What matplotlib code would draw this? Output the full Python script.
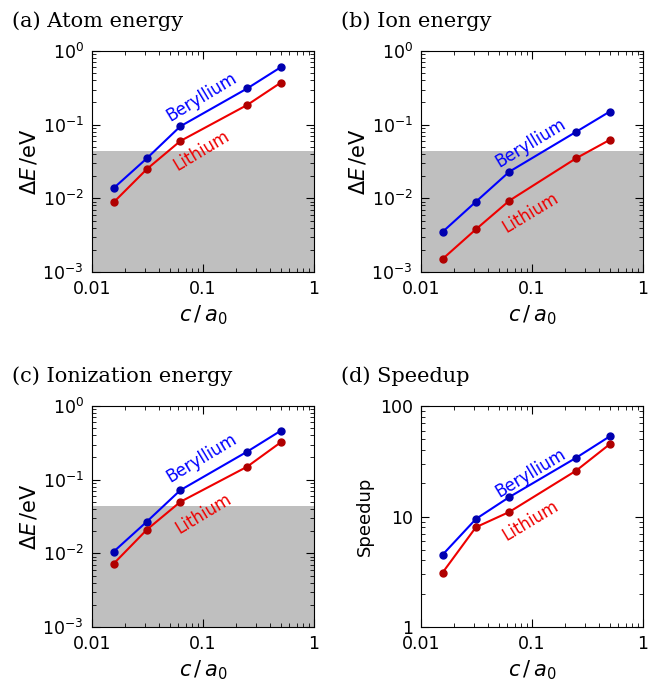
import matplotlib
matplotlib.use("Agg")
import matplotlib.pyplot as plt
import numpy as np

x = [1/64, 1/32, 1/16, 1/4, 1/2]
atom_be = [0.0137, 0.035, 0.095, 0.31, 0.6]
atom_li = [0.0088, 0.025, 0.06, 0.185, 0.37]
ion_be = [0.0035, 0.009, 0.023, 0.08, 0.15]
ion_li = [0.0015, 0.0038, 0.0093, 0.035, 0.062]
ioniz_be = [0.0105, 0.027, 0.072, 0.24, 0.46]
ioniz_li = [0.0072, 0.021, 0.05, 0.15, 0.32]
speed_be = [4.5, 9.5, 15, 34, 53]
speed_li = [3.1, 8, 11, 26, 45]
titles = ["(a) Atom energy", "(b) Ion energy", "(c) Ionization energy", "(d) Speedup"]
chem_acc = 0.0434

plt.rcParams['mathtext.fontset'] = 'dejavusans'
fig = plt.figure(figsize=(6.48, 6.83), dpi=100)
W, H = 648, 683
boxes = [(92, 51), (421, 51), (92, 406), (421, 406)]
data = [(atom_be, atom_li), (ion_be, ion_li), (ioniz_be, ioniz_li), (speed_be, speed_li)]
lbl = [((0.097, 0.237), (0.097, 0.045)), ((0.097, 0.056), (0.097, 0.0063)),
       ((0.097, 0.196), (0.1, 0.035)), ((0.097, 25), (0.097, 9.2))]
for i, ((l, t), (be, li)) in enumerate(zip(boxes, data)):
    ax = fig.add_axes([l / W, 1 - (t + 221) / H, 222 / W, 221 / H])
    ax.set_xscale('log'); ax.set_yscale('log')
    ax.set_xlim(0.01, 1)
    if i < 3:
        ax.set_ylim(1e-3, 1)
        ax.axhspan(1e-3, chem_acc, color='#bfbfbf', zorder=0, lw=0)
        ax.set_ylabel(r'$\Delta E\,/\mathrm{eV}$', fontsize=15, labelpad=2)
    else:
        ax.set_ylim(1, 100)
        ax.set_yticks([1, 10, 100]); ax.set_yticklabels(['1', '10', '100'])
        ax.set_ylabel('Speedup', fontsize=13)
    ax.plot(x, be, '-', color='#0000ff', lw=1.5)
    ax.plot(x, be, 'o', color='#0000b0', ms=5)
    ax.plot(x, li, '-', color='#ee0000', lw=1.5)
    ax.plot(x, li, 'o', color='#b00000', ms=5)
    ax.set_xticks([0.01, 0.1, 1]); ax.set_xticklabels(['0.01', '0.1', '1'])
    ax.tick_params(which='both', direction='in', top=True, right=True, labelsize=12.5)
    ax.tick_params(which='major', length=6, pad=6)
    ax.tick_params(which='minor', length=3)
    ax.set_xlabel(r'$c\,/\,a_0$', fontsize=15, labelpad=4)
    ax.text(*lbl[i][0], 'Beryllium', color='#0000ff', fontsize=12, rotation=31, ha='center', va='center')
    ax.text(*lbl[i][1], 'Lithium', color='#ee0000', fontsize=12, rotation=31, ha='center', va='center')
    fig.text((l - 80) / W, 1 - (t - 40) / H, titles[i], fontsize=15, family='DejaVu Serif', va='top')
fig.savefig('out.png', dpi=100)
